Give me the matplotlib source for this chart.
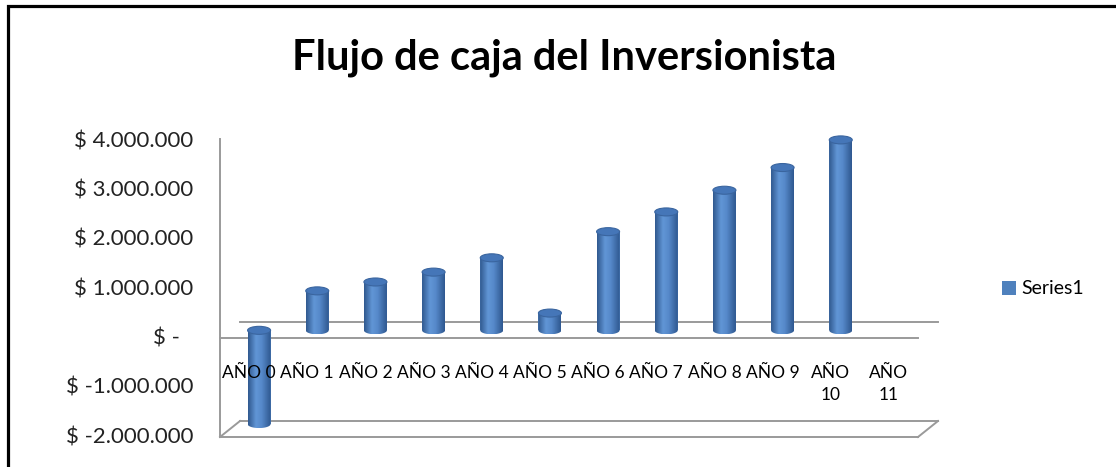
import numpy as np
import matplotlib
matplotlib.use("Agg")
import matplotlib.pyplot as plt
from matplotlib import transforms
from matplotlib.patches import Ellipse, Rectangle, Polygon
from matplotlib.colors import LinearSegmentedColormap

categories = ["AÑO 0", "AÑO 1", "AÑO 2", "AÑO 3", "AÑO 4", "AÑO 5",
              "AÑO 6", "AÑO 7", "AÑO 8", "AÑO 9", "AÑO\n10", "AÑO\n11"]
values = [-1900000, 800000, 980000, 1180000, 1470000, 350000,
          2000000, 2400000, 2840000, 3300000, 3860000, 0]
y_ticks = [-2000000, -1000000, 0, 1000000, 2000000, 3000000, 4000000]
y_labels = ["$ -2.000.000", "$ -1.000.000", "$ -", "$ 1.000.000",
            "$ 2.000.000", "$ 3.000.000", "$ 4.000.000"]
series_name = "Series1"

W, H = 1116, 467
plt.rcParams["font.family"] = ["Lato", "DejaVu Sans"]

fig = plt.figure(figsize=(W / 100, H / 100), dpi=100)
fig.patch.set_facecolor("white")

# outer chart frame
fig.add_artist(Rectangle((8 / W, -0.2), 1.2, 1.2 - 5.5 / H, transform=fig.transFigure,
                         fill=False, edgecolor="black", lw=2.3))

# front plane of the 3D box: x 220..918 px, -2M at y=437 px, 49.3 px per million
YMIN, YMAX = -2e6, 4.6e6
px_y = 6e6 / 296
ax_h = (YMAX - YMIN) / px_y
ax = fig.add_axes([220 / W, 1 - 437 / H, 698 / W, ax_h / H])
ax.set_xlim(-0.5, 11.5)
ax.set_ylim(YMIN, YMAX)
ax.axis("off")

# depth shift (20 px right, 16 px up) in data units
px_x = 12 / 698
DX, DY = 20 * px_x, 16 * px_y

grid_c = "#9a9a9a"
lk = dict(color=grid_c, lw=1.4, clip_on=False, zorder=1)
# left wall edge
ax.plot([-0.5, -0.5], [-2e6, 4.05e6], **lk)
# zero plane, front and back
ax.plot([-0.5, 11.5], [0, 0], **lk)
ax.plot([-0.5 + DX, 11.5 + DX], [DY, DY], **lk)
# floor
ax.plot([-0.5, 11.5], [-2e6, -2e6], **lk)
ax.plot([-0.5 + DX, 11.5 + DX], [-2e6 + DY, -2e6 + DY], **lk)
ax.plot([-0.5, -0.5 + DX], [-2e6, -2e6 + DY], **lk)
ax.plot([11.5, 11.5 + DX], [-2e6, -2e6 + DY], **lk)

# cylinders
cmap = LinearSegmentedColormap.from_list(
    "cyl", [(0, "#30598f"), (0.35, "#6196d6"), (0.6, "#5689ca"), (1, "#2f5890")])
grad = np.linspace(0, 1, 64).reshape(1, -1)
bw = 23 * px_x
eh = 8 * px_y
xs = np.arange(len(categories)) + DX / 2
base = DY / 2
first = True
for x, v in zip(xs, values):
    if v == 0:
        continue
    lo, hi = min(base, base + v), max(base, base + v)
    ax.bar(x, hi - lo, width=bw, bottom=lo, color="#4f81bd",
           label=series_name if first else None, zorder=2)
    first = False
    t = np.linspace(np.pi, 2 * np.pi, 30)
    ex = x + bw / 2 * np.cos(t)
    ey = lo + eh / 2 * np.sin(t)
    pts = np.column_stack([np.r_[ex, x + bw / 2, x - bw / 2], np.r_[ey, hi, hi]])
    shape = Polygon(pts, closed=True, facecolor="none", edgecolor="none")
    ax.add_patch(shape)
    im = ax.imshow(grad, cmap=cmap, aspect="auto", zorder=3,
                   extent=[x - bw / 2, x + bw / 2, lo - eh / 2, hi], interpolation="bilinear")
    im.set_clip_path(shape)
    ax.add_patch(Ellipse((x, hi), bw, eh, facecolor="#4576b8", edgecolor="#3a659f",
                         lw=0.8, zorder=4))

ax.set_xlim(-0.5, 11.5)
ax.set_ylim(YMIN, YMAX)

# category labels
for i, lab in enumerate(categories):
    ax.text(i, -27 * px_y, lab, ha="center", va="top", fontsize=12.5,
            color="black", linespacing=1.45)

# value axis labels
for yv, lab in zip(y_ticks, y_labels):
    off = -40 if yv == 0 else -27
    tr = transforms.offset_copy(ax.transData, fig=fig, x=off, y=0, units="dots")
    ax.text(-0.5, yv, lab, transform=tr, ha="right", va="center", fontsize=16,
            color="#222222")

fig.text(564 / W, 1 - 58 / H, "Flujo de caja del Inversionista", ha="center",
         va="center", fontsize=30, fontweight="bold", color="black")

fig.legend(loc="center left", bbox_to_anchor=(1002 / W, 1 - 289 / H), frameon=False,
           fontsize=14, handlelength=0.7, handleheight=0.7, handletextpad=0.3,
           borderpad=0, borderaxespad=0)

fig.savefig("out.png", dpi=100)
